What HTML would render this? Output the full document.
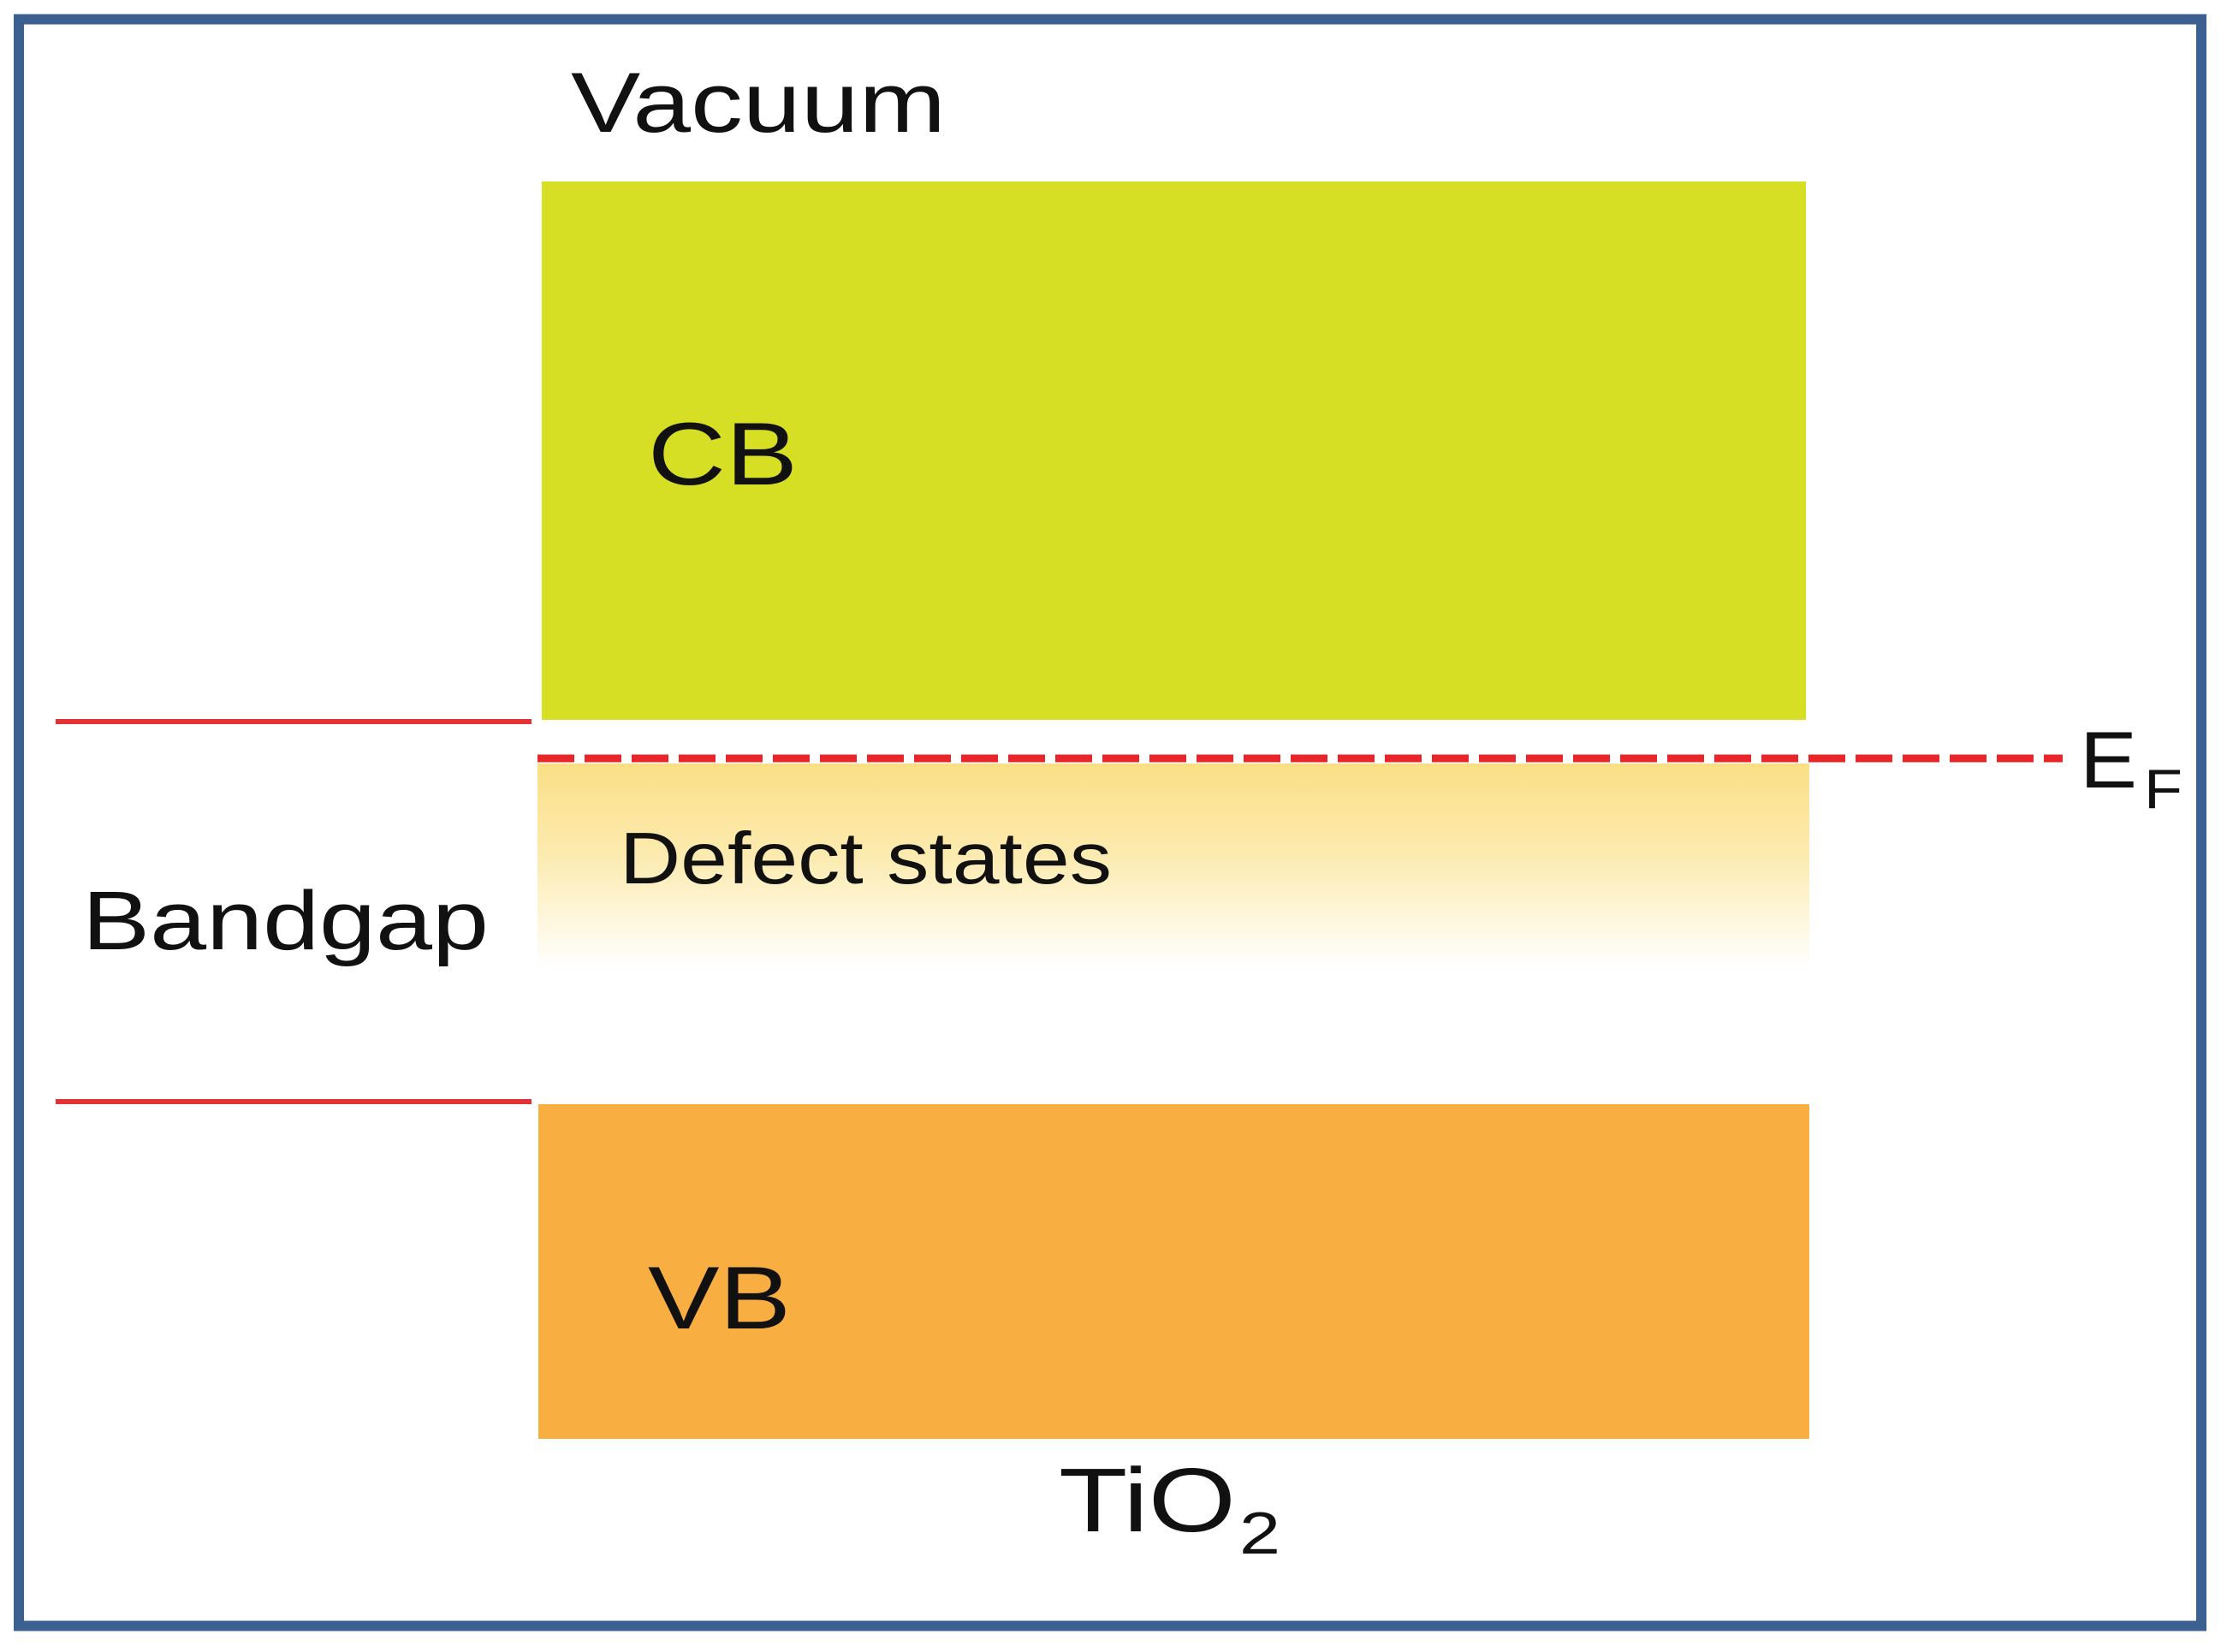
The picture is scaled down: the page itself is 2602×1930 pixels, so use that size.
<!DOCTYPE html>
<html><head><meta charset="utf-8"><style>
html,body{margin:0;padding:0;background:#fff;}
svg{display:block;}
text{font-family:"Liberation Sans",Arial,sans-serif;fill:#111;}
</style></head><body>
<svg width="2602" height="1930" viewBox="0 0 2602 1930" xmlns="http://www.w3.org/2000/svg">
<defs>
<linearGradient id="dg" x1="0" y1="0" x2="0" y2="1">
<stop offset="0" stop-color="#fbdf86"/>
<stop offset="0.45" stop-color="#fcebb0"/>
<stop offset="1" stop-color="#ffffff"/>
</linearGradient>
</defs>
<rect x="0" y="0" width="2602" height="1930" fill="#fff"/>
<rect x="22" y="22.5" width="2550" height="1877" fill="none" stroke="#3c6090" stroke-width="12"/>
<text x="667" y="154" font-size="99" textLength="438" lengthAdjust="spacingAndGlyphs">Vacuum</text>
<rect x="633" y="212" width="1477" height="629" fill="#d6df24"/>
<text x="757" y="566" font-size="104" textLength="175" lengthAdjust="spacingAndGlyphs">CB</text>
<rect x="628" y="892" width="1486" height="240" fill="url(#dg)"/>
<line x1="628" y1="886" x2="2410" y2="886" stroke="#e8262a" stroke-width="9" stroke-dasharray="43,12"/>
<text x="2430" y="920" font-size="94" textLength="67" lengthAdjust="spacingAndGlyphs">E</text>
<text x="2505" y="944" font-size="65" textLength="45" lengthAdjust="spacingAndGlyphs">F</text>
<text x="724" y="1032" font-size="85" textLength="575" lengthAdjust="spacingAndGlyphs">Defect states</text>
<line x1="65" y1="843" x2="621" y2="843" stroke="#e23238" stroke-width="6"/>
<line x1="65" y1="1287" x2="621" y2="1287" stroke="#e23238" stroke-width="6"/>
<text x="96" y="1109" font-size="97" textLength="475" lengthAdjust="spacingAndGlyphs">Bandgap</text>
<rect x="629" y="1290" width="1485" height="391" fill="#f9ae42"/>
<text x="757" y="1552" font-size="104" textLength="167" lengthAdjust="spacingAndGlyphs">VB</text>
<text x="1237" y="1789" font-size="106" textLength="207" lengthAdjust="spacingAndGlyphs">TiO</text>
<text x="1448" y="1815" font-size="70" textLength="48" lengthAdjust="spacingAndGlyphs">2</text>
</svg>
</body></html>
